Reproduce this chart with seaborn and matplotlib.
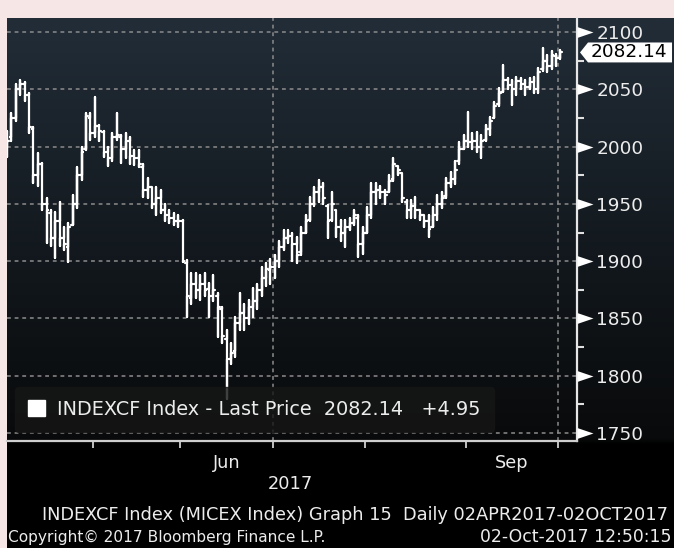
"""Bloomberg style OHLC bar chart of the MICEX (INDEXCF) index"""

import matplotlib

matplotlib.use("Agg")
import matplotlib.pyplot as plt
import matplotlib.transforms as mtransforms
import numpy as np
import pandas as pd
import seaborn as sns
from matplotlib.colors import LinearSegmentedColormap
from matplotlib.patches import Patch, Polygon
from matplotlib.ticker import MultipleLocator

# trading days shown per month, 3-Apr-2017 .. 2-Oct-2017
months = ["Apr", "May", "Jun", "Jul", "Aug", "Sep", "Oct"]
days_in_month = [20, 20, 21, 21, 23, 21, 1]
labelled_months = ["Jun", "Sep"]
quarter_starts = ["Jul", "Oct"]

opens = [
    2000, 2008, 2025, 2050, 2055, 2045, 2015, 1975, 1985, 1950,
    1942, 1920, 1935, 1920, 1912, 1932, 1950, 1975, 1998, 2025,
    2012, 2018, 2013, 1995, 1990, 2008, 2008, 1998, 2005, 1992,
    1990, 1982, 1962, 1965, 1950, 1955, 1945, 1940, 1938, 1935,
    1935, 1898, 1868, 1880, 1875, 1880, 1876, 1870, 1870, 1858,
    1832, 1815, 1822, 1846, 1855, 1850, 1860, 1865, 1875, 1885,
    1892, 1895, 1900, 1912, 1920, 1922, 1915, 1908, 1925, 1936,
    1950, 1960, 1965, 1948, 1936, 1945, 1930, 1925, 1930, 1933,
    1938, 1915, 1925, 1940, 1960, 1962, 1960, 1960, 1972, 1983,
    1977, 1952, 1945, 1948, 1945, 1940, 1935, 1930, 1940, 1950,
    1957, 1968, 1972, 1987, 1998, 2005, 2004, 2005, 2000, 2006,
    2015, 2025, 2037, 2048, 2058, 2054, 2050, 2057, 2055, 2052,
    2056, 2050, 2068, 2075, 2070, 2079, 2077.19,
]
highs = [
    2014, 2029, 2055, 2058, 2056, 2047, 2017, 1994, 1986, 1955,
    1945, 1943, 1952, 1930, 1933, 1958, 1982, 2000, 2029, 2029,
    2043, 2019, 2014, 2000, 2012, 2029, 2010, 2012, 2008, 1997,
    1997, 1985, 1973, 1965, 1965, 1962, 1950, 1945, 1942, 1940,
    1936, 1901, 1890, 1890, 1888, 1890, 1881, 1888, 1872, 1860,
    1840, 1829, 1851, 1872, 1863, 1866, 1877, 1880, 1895, 1898,
    1902, 1905, 1918, 1927, 1927, 1925, 1921, 1930, 1940, 1956,
    1965, 1971, 1968, 1949, 1960, 1945, 1936, 1936, 1938, 1945,
    1940, 1930, 1947, 1968, 1968, 1966, 1962, 1975, 1990, 1983,
    1977, 1953, 1953, 1956, 1945, 1940, 1940, 1947, 1958, 1960,
    1973, 1978, 1987, 2004, 2010, 2030, 2012, 2013, 2010, 2019,
    2026, 2039, 2051, 2071, 2060, 2058, 2061, 2060, 2058, 2060,
    2061, 2069, 2086, 2080, 2083, 2081, 2084,
]
lows = [
    1991, 2005, 2022, 2045, 2040, 2012, 1968, 1966, 1945, 1916,
    1913, 1903, 1913, 1910, 1899, 1932, 1946, 1971, 1997, 2006,
    2008, 2005, 1991, 1983, 1987, 2006, 1986, 1990, 1985, 1984,
    1982, 1956, 1955, 1946, 1940, 1942, 1935, 1933, 1932, 1930,
    1899, 1851, 1863, 1868, 1866, 1870, 1851, 1865, 1834, 1829,
    1780, 1810, 1816, 1840, 1840, 1845, 1851, 1858, 1870, 1878,
    1880, 1885, 1895, 1910, 1916, 1900, 1898, 1905, 1925, 1935,
    1948, 1952, 1950, 1920, 1935, 1921, 1918, 1912, 1927, 1932,
    1904, 1906, 1925, 1938, 1950, 1955, 1950, 1960, 1970, 1975,
    1952, 1938, 1938, 1938, 1936, 1930, 1921, 1930, 1936, 1946,
    1955, 1965, 1967, 1985, 1998, 2000, 1998, 1995, 1990, 2005,
    2010, 2025, 2035, 2048, 2050, 2036, 2045, 2050, 2045, 2050,
    2047, 2047, 2066, 2065, 2068, 2070, 2076,
]
closes = [
    2005, 2025, 2050, 2055, 2045, 2017, 1975, 1985, 1950, 1945,
    1920, 1935, 1920, 1915, 1930, 1950, 1975, 1995, 2027, 2012,
    2018, 2014, 1995, 1990, 2008, 2010, 1998, 2005, 1992, 1990,
    1985, 1962, 1965, 1950, 1955, 1945, 1940, 1938, 1935, 1935,
    1900, 1870, 1880, 1875, 1880, 1875, 1870, 1875, 1860, 1835,
    1815, 1820, 1846, 1855, 1850, 1860, 1865, 1875, 1885, 1893,
    1895, 1900, 1912, 1920, 1922, 1915, 1905, 1925, 1935, 1950,
    1960, 1965, 1955, 1935, 1950, 1930, 1925, 1930, 1933, 1940,
    1915, 1925, 1940, 1960, 1962, 1960, 1958, 1970, 1985, 1980,
    1955, 1945, 1948, 1945, 1940, 1935, 1928, 1940, 1950, 1955,
    1968, 1972, 1980, 1998, 2005, 2004, 2005, 2000, 2005, 2015,
    2022, 2035, 2047, 2058, 2054, 2050, 2057, 2055, 2052, 2056,
    2050, 2065, 2075, 2070, 2080, 2077.19, 2082.14,
]

last_price = 2082.14
net_change = 4.95
y_ticks = [1750, 1800, 1850, 1900, 1950, 2000, 2050, 2100]
series_name = "INDEXCF Index - Last Price"
footer = "INDEXCF Index (MICEX Index) Graph 15  Daily 02APR2017-02OCT2017"
copyright_text = "Copyright\u00a9 2017 Bloomberg Finance L.P."
stamp = "02-Oct-2017 12:50:15"

W, H = 674, 548
TXT = "#ececec"


def fx(x):
    return x / W


def fy(y):
    return 1 - y / H


def ohlc_frame():
    """One polyline per bar: open tick, high-low stem, close tick."""
    d = 0.42
    rows = []
    for i, (o, h, lo, c) in enumerate(zip(opens, highs, lows, closes)):
        pts = [(i - d, o), (i, o), (i, h), (i, lo), (i, c), (i + d, c)]
        for k, (x, y) in enumerate(pts):
            rows.append({"bar": i, "step": k, "x": x, "price": y})
    return pd.DataFrame(rows)


def main():
    sns.set_theme(style="dark")
    plt.rcParams["font.family"] = ["DejaVu Sans"]

    fig = plt.figure(figsize=(W / 100, H / 100), dpi=100, facecolor="#f6e6e6")

    # dark panel with a slate-to-black vertical gradient
    bg = fig.add_axes([fx(7), 0, 1 - fx(7), fy(18)])
    bg.set_axis_off()
    cmap = LinearSegmentedColormap.from_list(
        "bbg",
        [
            (0.0, "#000000"),
            (0.195, "#000000"),
            (0.205, "#090a0b"),
            (0.55, "#12181d"),
            (1.0, "#222d38"),
        ],
    )
    grad = np.linspace(0, 1, 512).reshape(-1, 1)
    bg.imshow(grad, cmap=cmap, origin="lower", extent=[0, 1, 0, 1], aspect="auto")
    bg.set_xlim(0, 1)
    bg.set_ylim(0, 1)

    ax = fig.add_axes([fx(7), fy(441), fx(570), 423 / H])
    ax.set_facecolor("none")

    df = ohlc_frame()
    sns.lineplot(
        data=df,
        x="x",
        y="price",
        units="bar",
        estimator=None,
        sort=False,
        color="white",
        linewidth=1.6,
        legend=False,
        ax=ax,
        zorder=3,
    )

    ax.set_xlim(0, 129.8)
    ax.set_ylim(1743.1, 2112.2)
    ax.set_xlabel("")
    ax.set_ylabel("")

    # month boundaries in bar-index space
    starts = np.cumsum(days_in_month)[:-1] - 0.5
    start_of = dict(zip(months[1:], starts))
    centers = {}
    edges = np.concatenate([[-0.5], starts, [starts[-1] + days_in_month[-1]]])
    for m, a, b in zip(months, edges[:-1], edges[1:]):
        centers[m] = (a + b) / 2

    grid_kw = dict(color="#8c8c8c", linewidth=1.1, linestyle=(0, (2.5, 2.5)), zorder=1)
    for v in y_ticks:
        ax.axhline(v, **grid_kw)
    for m in quarter_starts:
        ax.axvline(start_of[m], **grid_kw)

    ax.set_xticks(starts, labels=[""] * len(starts))
    ax.set_xticks(
        [centers[m] for m in labelled_months], labels=labelled_months, minor=True
    )
    ax.tick_params(
        axis="x", which="major", direction="out", length=5, width=1.3,
        color="#d0d0d0", bottom=True,
    )
    ax.tick_params(
        axis="x", which="minor", length=0, pad=9, labelsize=12.8,
        labelcolor=TXT, bottom=True,
    )

    ax.yaxis.tick_right()
    ax.set_yticks(y_ticks)
    ax.yaxis.set_minor_locator(MultipleLocator(25))
    ax.tick_params(
        axis="y", which="major", length=0, pad=14, labelsize=13.3,
        labelcolor=TXT, right=True, left=False,
    )
    ax.tick_params(
        axis="y", which="minor", direction="out", length=5, width=1.5,
        color="#e0e0e0", right=True, left=False,
    )
    ax.grid(False)

    for side in ["top", "left"]:
        ax.spines[side].set_visible(False)
    ax.spines["right"].set_color("#e6e6e6")
    ax.spines["right"].set_linewidth(1.6)
    ax.spines["bottom"].set_color("#cfcfcf")
    ax.spines["bottom"].set_linewidth(1.6)

    # right-pointing flag markers at the labelled levels
    trans = mtransforms.blended_transform_factory(ax.transAxes, ax.transData)
    ax.plot(
        [1.0] * len(y_ticks), y_ticks, linestyle="none",
        marker=[(0, -0.34), (0, 0.34), (1, 0)], markersize=23,
        color="white", markeredgewidth=0, transform=trans, clip_on=False,
        zorder=5,
    )

    # last price tag
    half = 8.7
    tag = Polygon(
        [
            (1.0053, last_price),
            (1.0193, last_price + half),
            (1.1667, last_price + half),
            (1.1667, last_price - half),
            (1.0193, last_price - half),
        ],
        closed=True, facecolor="white", edgecolor="none",
        transform=trans, clip_on=False, zorder=6,
    )
    ax.add_patch(tag)
    ax.text(
        1.0915, last_price, f"{last_price:.2f}", transform=trans,
        ha="center", va="center", fontsize=13.3, color="black", zorder=7,
        clip_on=False,
    )

    leg = ax.legend(
        handles=[Patch(facecolor="white", edgecolor="white")],
        labels=[f"{series_name}  {last_price:.2f}   {net_change:+.2f}"],
        loc="lower left",
        bbox_to_anchor=(0.014, 0.021),
        borderaxespad=0,
        fontsize=13.9,
        labelcolor=TXT,
        handlelength=0.9,
        handleheight=0.9,
        handletextpad=0.6,
        borderpad=0.68,
        fancybox=True,
        framealpha=0.82,
        facecolor="#161616",
        edgecolor="#161616",
    )
    leg.set_zorder(4)

    fig.text(fx(290), fy(484), "2017", ha="center", va="center",
             fontsize=12.8, color=TXT)
    fig.text(fx(668), fy(515), footer, ha="right", va="center",
             fontsize=12.8, color=TXT)
    fig.text(fx(8), fy(537), copyright_text, ha="left", va="center",
             fontsize=11.1, color=TXT)
    fig.text(fx(671), fy(537), stamp, ha="right", va="center",
             fontsize=12.4, color=TXT)

    fig.savefig("out.png", dpi=100, facecolor=fig.get_facecolor())


if __name__ == "__main__":
    main()
